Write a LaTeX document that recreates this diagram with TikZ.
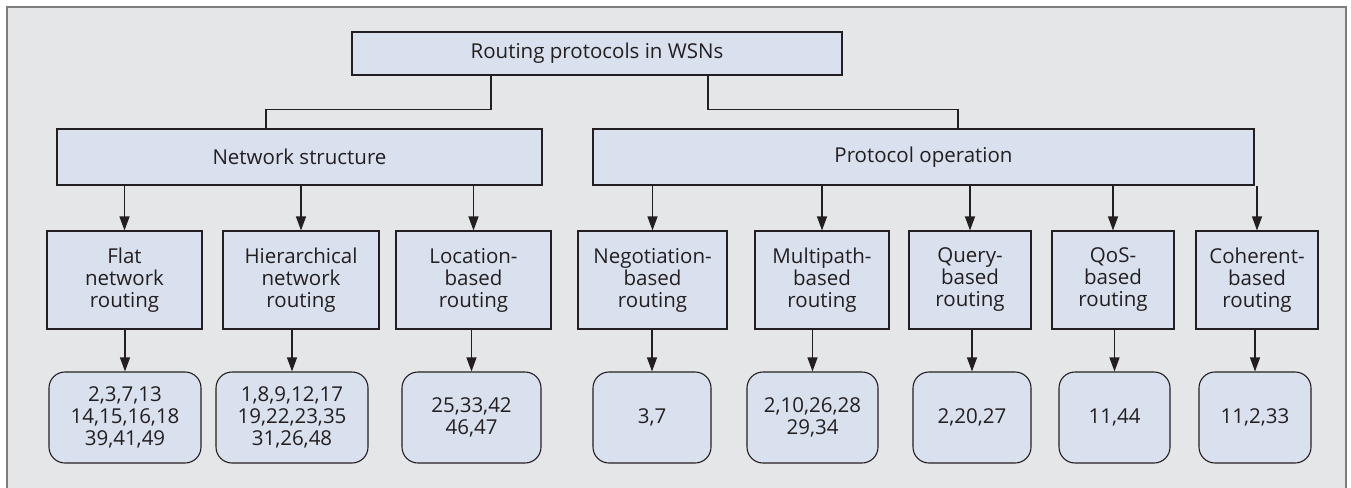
\documentclass[tikz,border=0pt]{standalone}
\usepackage{fontspec}
\setmainfont{Open Sans}
\usepackage{tikz}
\usetikzlibrary{arrows.meta,positioning}
\definecolor{boxfill}{RGB}{218,225,238}
\definecolor{panel}{RGB}{229,230,232}
\definecolor{framegray}{RGB}{125,125,125}
\definecolor{ink}{RGB}{35,31,32}

\begin{document}
\begin{tikzpicture}[x=1pt,y=-1pt,
  box/.style={draw=ink,fill=boxfill,line width=1.1pt,inner sep=0pt,align=center,text=ink,font=\fontsize{20.5}{22}\selectfont},
  rootbox/.style={box,line width=2.4pt,minimum width=490pt,minimum height=43pt},
  groupbox/.style={box,minimum height=56pt},
  kindbox/.style={box,minimum height=98pt},
  refbox/.style={box,rounded corners=16pt,minimum height=91pt},
  arr/.style={draw=ink,line width=1.1pt,-{Triangle[length=14pt,width=10pt]}},
  link/.style={draw=ink,line width=1.1pt}]
\useasboundingbox (0,0) rectangle (1351,487);
\draw[framegray,fill=panel,line width=1.6pt] (7,7) rectangle (1346,492);

\node[rootbox] (root) at (597,53.5) {Routing protocols in WSNs};
\node[groupbox,minimum width=485pt] (net) at (299.5,157) {Network structure};
\node[groupbox,minimum width=661pt] (oper) at (923.5,157) {Protocol operation};
\draw[link] ([xshift=-106pt]root.south) -- ++(0,33) -| ([xshift=-33.5pt]net.north);
\draw[link] ([xshift=111pt]root.south) -- ++(0,33) -| ([xshift=34.5pt]oper.north);

\node[kindbox,minimum width=155pt] (flat) at (124.5,280) {Flat\\network\\routing};
\node[kindbox,minimum width=156pt] (hier) at (301,280) {Hierarchical\\network\\routing};
\node[kindbox,minimum width=155pt] (loc) at (473.5,280) {Location-\\based\\routing};
\node[kindbox,minimum width=149pt] (nego) at (652.5,280) {Negotiation-\\based\\routing};
\node[kindbox,minimum width=134pt] (multi) at (822,280) {Multipath-\\based\\routing};
\node[kindbox,minimum width=122pt] (query) at (970,280) {Query-\\based\\routing};
\node[kindbox,minimum width=122pt] (qos) at (1113,280) {QoS-\\based\\routing};
\node[kindbox,minimum width=122pt] (coher) at (1257,280) {Coherent-\\based\\routing};

\node[refbox,minimum width=152pt] (flatref) at (125,417.5) {2,3,7,13\\14,15,16,18\\39,41,49};
\node[refbox,minimum width=152pt] (hierref) at (292,417.5) {1,8,9,12,17\\19,22,23,35\\31,26,48};
\node[refbox,minimum width=139pt] (locref) at (471.5,417.5) {25,33,42\\46,47};
\node[refbox,minimum width=118pt] (negoref) at (652,417.5) {3,7};
\node[refbox,minimum width=131pt] (multiref) at (812.5,417.5) {2,10,26,28\\29,34};
\node[refbox,minimum width=118pt] (queryref) at (972,417.5) {2,20,27};
\node[refbox,minimum width=111pt] (qosref) at (1114.5,417.5) {11,44};
\node[refbox,minimum width=112pt] (coherref) at (1255,417.5) {11,2,33};

\foreach \k in {flat,hier,loc}
  \draw[arr] (net.south -| \k) -- (\k.north);
\foreach \k in {nego,multi,query,qos,coher}
  \draw[arr] (oper.south -| \k) -- (\k.north);
\foreach \k in {flat,hier,loc,nego,multi,query,qos,coher}
  \draw[arr] (\k.south -| \k ref) -- (\k ref.north);
\end{tikzpicture}
\end{document}
